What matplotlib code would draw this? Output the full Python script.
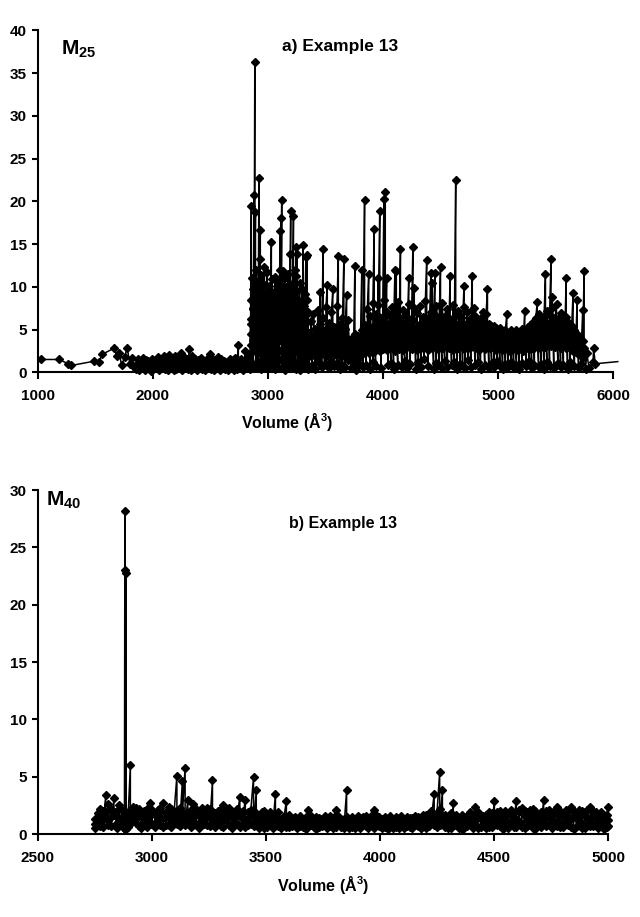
import matplotlib
matplotlib.use("Agg")
import matplotlib.pyplot as plt

plt.rcParams["font.family"] = ["Liberation Sans", "DejaVu Sans"]
plt.rcParams["font.weight"] = "bold"
plt.rcParams["mathtext.fontset"] = "custom"
plt.rcParams["mathtext.rm"] = "Liberation Sans:bold"
plt.rcParams["mathtext.it"] = "Liberation Sans:bold"
plt.rcParams["mathtext.bf"] = "Liberation Sans:bold"

# ---- panel a: M25 vs volume ----
vol_early = [1032, 1185, 1264, 1293, 1490, 1530, 1559, 1661, 1690, 1710,
             1728, 1755, 1777, 1800, 1820, 1840]
m25_early = [1.5, 1.5, 1.0, 0.8, 1.3, 1.2, 2.1, 2.8, 1.9, 2.2,
             0.8, 1.8, 2.9, 1.0, 1.7, 0.6]

# from here on every volume carries several structures (one list per structure)
vol_low = [1855, 1868, 1880, 1893, 1905, 1918, 1930, 1943, 1955, 1968,
           1980, 1993, 2005, 2018, 2030, 2043, 2055, 2068, 2080, 2093,
           2105, 2118, 2130, 2143, 2155, 2168, 2180, 2193, 2205, 2218,
           2230, 2243, 2255, 2268, 2280, 2293, 2305, 2318, 2330, 2343,
           2355, 2368, 2380, 2393, 2405, 2418, 2430, 2443, 2455, 2468,
           2480, 2493, 2505, 2518, 2530, 2543, 2555, 2568, 2580, 2593,
           2605, 2618, 2630, 2643, 2655, 2668, 2680, 2693, 2705, 2718,
           2730, 2743, 2755, 2768, 2780, 2793, 2805, 2818, 2830, 2842]
m25_low = [0.4, 1.6, 0.3, 1.2, 0.5, 1.7, 0.3, 1.4, 0.6, 1.2,
           0.2, 1.5, 0.4, 1.3, 0.5, 1.8, 0.3, 1.4, 0.6, 1.9,
           0.4, 1.5, 0.3, 2.0, 0.5, 1.6, 0.3, 1.9, 0.4, 1.7,
           0.6, 2.2, 0.3, 1.8, 0.5, 1.5, 0.4, 2.7, 0.3, 1.9,
           0.5, 1.6, 0.3, 1.4, 0.6, 1.7, 0.4, 1.3, 0.3, 1.5,
           0.5, 2.1, 0.4, 1.6, 0.3, 1.4, 0.5, 1.8, 0.3, 1.5,
           0.6, 1.3, 0.4, 1.2, 0.3, 1.6, 0.5, 1.4, 0.3, 1.7,
           0.4, 3.2, 0.5, 1.5, 0.3, 1.3, 2.5, 0.6, 1.8, 0.4]
m25_low_2 = [0.9, 1.1, 0.8, 0.7, 1.2, 1.0, 0.9, 0.8, 1.3, 0.7,
             1.0, 0.8, 1.1, 0.9, 1.2, 1.0, 0.8, 0.9, 1.3, 1.1,
             0.9, 0.8, 1.2, 1.0, 1.4, 0.9, 1.1, 0.8, 1.2, 1.0,
             1.3, 0.9, 1.1, 1.0, 1.2, 0.8, 1.0, 1.1, 1.3, 0.9,
             1.0, 1.2, 0.8, 0.9, 1.1, 1.0, 1.2, 0.8, 1.0, 0.9,
             1.1, 1.3, 0.9, 1.0, 1.2, 0.8, 1.0, 1.1, 0.9, 1.0,
             1.2, 0.8, 0.9, 1.1, 1.0, 0.8, 1.2, 0.9, 1.0, 1.1,
             0.9, 1.4, 1.0, 0.8, 1.1, 0.9, 1.2, 1.0, 1.3, 0.9]

vol_dense1 = [2850, 2856, 2862, 2868, 2874, 2880, 2886, 2892, 2898, 2904,
              2910, 2916, 2922, 2928, 2934, 2940, 2946, 2952, 2958, 2964,
              2970, 2976, 2982, 2988, 2994, 3000, 3006, 3012, 3018, 3024,
              3030, 3036, 3042, 3048, 3054, 3060, 3066, 3072, 3078, 3084,
              3090, 3096, 3102, 3108, 3114, 3120, 3126, 3132, 3138, 3144,
              3150, 3156, 3162, 3168, 3174, 3180, 3186, 3192, 3198, 3204,
              3210, 3216, 3222, 3228, 3234, 3240, 3246, 3252, 3258, 3264,
              3270, 3276, 3282, 3288, 3294, 3300, 3306, 3312, 3318, 3324,
              3330, 3336, 3342, 3348]
m25_dense1 = [5.6, 19.5, 0.5, 7.5, 1.0, 20.7, 36.3, 18.8, 0.6, 9.6,
              1.2, 7.0, 22.7, 13.3, 16.6, 0.4, 10.5, 1.5, 8.2, 0.8,
              12.3, 2.0, 6.5, 0.5, 9.0, 1.3, 7.8, 0.6, 5.4, 1.0,
              15.2, 0.7, 8.0, 1.8, 6.9, 0.4, 9.2, 1.1, 5.8, 0.5,
              7.4, 1.6, 4.8, 16.5, 18.1, 20.2, 0.6, 11.8, 1.2, 8.6,
              0.3, 10.0, 1.4, 6.2, 0.8, 9.5, 1.0, 13.8, 18.9, 0.5,
              7.1, 1.3, 18.3, 0.9, 12.0, 0.4, 14.7, 13.8, 0.6, 8.4,
              1.2, 10.5, 0.3, 4.6, 0.7, 9.8, 14.9, 0.5, 6.3, 1.1,
              13.5, 0.8, 13.7, 0.4]
m25_dense1_2 = [3.2, 4.5, 2.4, 6.1, 3.8, 5.2, 2.7, 6.8, 4.1, 3.0,
                5.5, 2.2, 4.7, 6.3, 3.5, 5.8, 2.6, 4.9, 3.3, 6.0,
                4.4, 2.9, 5.6, 3.7, 6.4, 2.5, 4.2, 5.1, 3.1, 6.6,
                4.0, 2.3, 5.3, 3.6, 4.8, 6.2, 2.8, 5.0, 3.4, 4.6,
                6.1, 2.6, 5.7, 3.9, 4.3, 6.5, 2.4, 5.2, 3.8, 4.9,
                2.7, 6.0, 4.1, 3.2, 5.4, 2.9, 4.6, 6.3, 3.5, 5.0,
                2.5, 4.4, 3.0, 5.6, 2.8, 4.0, 3.3, 5.1, 2.6, 4.7,
                2.2, 3.9, 2.8, 4.3, 2.4, 3.6, 5.0, 2.9, 4.1, 3.2,
                4.6, 2.7, 3.8, 2.5]
m25_dense1_3 = [8.5, 6.2, 11.0, 7.4, 9.8, 6.8, 10.5, 5.9, 12.0, 7.7,
                9.1, 6.4, 10.8, 8.0, 5.7, 11.4, 7.2, 9.5, 6.1, 10.2,
                7.9, 5.5, 9.3, 6.6, 11.7, 8.3, 6.0, 10.1, 7.5, 9.0,
                5.8, 10.9, 6.9, 8.7, 5.6, 11.2, 7.3, 9.6, 6.3, 10.4,
                8.1, 5.9, 12.0, 7.0, 9.4, 6.5, 10.7, 7.8, 5.7, 11.0,
                8.8, 6.2, 9.9, 7.4, 11.5, 6.0, 8.4, 10.3, 7.1, 9.2,
                6.6, 10.0, 5.8, 8.9, 7.2, 11.3, 6.4, 9.5, 5.6, 8.0,
                5.5, 7.6, 4.8, 6.9, 5.2, 8.3, 6.1, 7.7, 5.4, 9.1,
                6.7, 8.5, 5.9, 7.0]

vol_dense2 = [3360, 3372, 3384, 3396, 3408, 3420, 3432, 3444, 3456, 3468,
              3480, 3492, 3504, 3516, 3528, 3540, 3552, 3564, 3576, 3588,
              3600, 3612, 3624, 3636, 3648, 3660, 3672, 3684, 3696, 3708,
              3720, 3732, 3744, 3756, 3768, 3780, 3792, 3804, 3816, 3828,
              3840, 3852, 3864, 3876, 3888, 3900, 3912, 3924, 3936, 3948,
              3960, 3972, 3984, 3996, 4008, 4020, 4032, 4044, 4056, 4068,
              4080, 4092, 4104, 4116, 4128, 4140, 4152, 4164, 4176, 4188,
              4200, 4212, 4224, 4236, 4248, 4260, 4272, 4284, 4296, 4308,
              4320, 4332, 4344, 4356, 4368, 4380, 4392, 4404, 4416, 4428,
              4440, 4452, 4464, 4476, 4488, 4500, 4512, 4524, 4536, 4548,
              4560, 4572, 4584, 4596, 4608, 4620, 4632, 4644, 4656, 4668,
              4680, 4692, 4704, 4716, 4728, 4740, 4752, 4764, 4776, 4788,
              4800, 4812, 4824, 4836, 4848, 4860, 4872, 4884, 4896, 4908,
              4920, 4932, 4944, 4956, 4968, 4980, 4992, 5004, 5016, 5028,
              5040, 5052, 5064, 5076, 5088, 5100, 5112, 5124, 5136, 5148,
              5160, 5172, 5184, 5196, 5208, 5220, 5232, 5244, 5256, 5268,
              5280, 5292, 5304, 5316, 5328, 5340, 5352, 5364, 5376, 5388,
              5400, 5412, 5424, 5436, 5448, 5460, 5472, 5484, 5496, 5508,
              5520, 5532, 5544, 5556, 5568, 5580, 5592, 5604, 5616, 5628,
              5640, 5652, 5664, 5676, 5688, 5700, 5712, 5724, 5736, 5748]
m25_dense2 = [0.5, 4.2, 0.8, 3.6, 0.4, 5.0, 1.2, 3.8, 9.4, 0.6,
              14.4, 1.0, 4.6, 10.2, 0.5, 3.9, 1.3, 9.7, 0.7, 4.4,
              1.1, 13.6, 0.4, 3.2, 0.9, 13.2, 0.6, 9.0, 1.4, 3.5,
              0.5, 2.8, 0.8, 12.4, 0.3, 2.4, 1.0, 3.1, 12.0, 0.6,
              20.2, 0.9, 4.8, 11.5, 0.4, 5.2, 1.2, 16.8, 0.7, 5.6,
              11.0, 18.9, 0.5, 6.1, 20.3, 21.1, 11.0, 0.8, 5.3, 1.1,
              6.0, 0.4, 12.0, 11.9, 0.9, 5.4, 14.4, 0.6, 4.9, 1.3,
              5.8, 0.5, 11.0, 1.0, 6.2, 14.7, 9.9, 0.4, 5.1, 1.2,
              5.7, 0.6, 4.6, 1.5, 6.0, 13.1, 0.7, 5.5, 11.6, 10.5,
              0.4, 11.6, 1.1, 5.2, 0.8, 12.3, 0.5, 6.1, 1.3, 4.8,
              0.6, 5.9, 11.3, 0.9, 5.0, 1.2, 22.5, 0.4, 5.6, 1.0,
              6.3, 0.7, 10.1, 0.5, 5.4, 1.4, 4.9, 0.6, 11.3, 7.5,
              0.8, 5.7, 1.2, 4.6, 0.4, 6.0, 7.0, 0.9, 5.3, 9.8,
              0.5, 5.5, 1.1, 4.8, 0.6, 5.2, 1.3, 4.4, 0.7, 4.9,
              0.4, 4.3, 1.0, 6.8, 0.6, 4.7, 1.2, 4.1, 0.5, 4.6,
              0.9, 4.2, 0.4, 4.8, 1.1, 4.5, 7.2, 0.7, 4.3, 1.3,
              5.0, 0.5, 4.7, 0.8, 5.4, 8.2, 0.6, 5.2, 1.0, 5.8,
              0.4, 11.5, 1.2, 5.6, 0.7, 13.3, 8.8, 0.5, 5.9, 8.0,
              1.1, 5.3, 0.6, 6.2, 0.9, 4.8, 11.0, 0.4, 5.5, 1.2,
              4.6, 9.3, 0.7, 4.2, 8.5, 0.5, 3.9, 1.0, 7.3, 11.8]
m25_dense2_2 = [2.4, 1.9, 3.1, 2.2, 2.8, 1.8, 3.3, 2.5, 2.0, 3.0,
                2.6, 3.4, 1.9, 2.7, 3.2, 2.1, 2.9, 2.3, 3.5, 2.0,
                3.1, 2.4, 2.8, 1.8, 2.6, 2.2, 3.0, 1.9, 2.3, 1.7,
                2.1, 1.6, 2.4, 1.8, 2.0, 1.5, 2.2, 1.9, 2.5, 2.3,
                3.2, 2.6, 3.0, 2.2, 3.6, 2.8, 3.3, 2.4, 3.8, 2.9,
                3.5, 2.5, 3.9, 2.7, 3.1, 3.4, 2.6, 4.0, 2.8, 3.6,
                3.0, 3.7, 2.5, 3.3, 3.9, 2.7, 3.2, 3.8, 2.6, 3.5,
                2.9, 3.6, 3.1, 4.1, 2.7, 3.4, 3.0, 3.8, 2.6, 3.7,
                3.2, 4.0, 2.8, 3.5, 3.1, 3.9, 2.6, 3.3, 3.7, 2.9,
                3.6, 3.0, 3.8, 2.7, 3.4, 3.1, 4.0, 2.8, 3.5, 3.2,
                3.9, 2.9, 3.3, 3.7, 2.6, 3.6, 3.0, 3.9, 2.8, 3.4,
                3.1, 3.8, 2.7, 3.5, 3.0, 3.9, 2.8, 3.6, 3.2, 4.0,
                2.9, 3.4, 3.7, 2.6, 3.3, 3.1, 3.8, 2.7, 3.5, 3.0,
                3.6, 2.8, 3.3, 3.0, 3.7, 2.6, 3.2, 2.9, 3.5, 2.7,
                3.1, 2.6, 3.4, 2.9, 3.2, 2.5, 3.3, 2.8, 3.0, 2.7,
                3.2, 2.6, 3.0, 2.8, 3.3, 2.5, 3.1, 2.9, 3.4, 2.7,
                3.3, 2.9, 3.6, 2.8, 3.4, 3.1, 3.7, 2.9, 3.5, 3.2,
                3.8, 3.0, 3.6, 3.3, 3.9, 3.1, 3.5, 3.4, 3.0, 3.7,
                3.2, 3.6, 2.9, 3.4, 3.1, 3.5, 2.8, 3.3, 3.0, 3.2,
                2.6, 3.0, 2.4, 2.8, 2.2, 2.6, 2.0, 2.4, 1.8, 2.2]
m25_dense2_3 = [4.6, 6.0, 4.2, 6.8, 5.1, 4.4, 7.3, 4.8, 5.6, 4.5,
                6.4, 5.0, 7.6, 4.3, 5.8, 4.7, 7.0, 4.1, 5.3, 4.9,
                7.8, 4.4, 5.6, 5.0, 6.3, 4.2, 5.1, 3.9, 6.1, 3.6,
                3.3, 4.0, 2.9, 4.5, 3.4, 4.2, 3.1, 3.7, 5.0, 3.6,
                5.5, 4.5, 7.4, 5.0, 6.6, 4.6, 8.1, 5.3, 6.8, 4.8,
                7.9, 5.7, 6.4, 5.0, 8.4, 5.9, 7.1, 5.2, 6.7, 5.6,
                7.6, 5.1, 7.0, 5.5, 8.2, 4.9, 6.4, 5.9, 7.3, 5.3,
                6.6, 5.6, 8.0, 5.0, 6.2, 6.0, 7.5, 4.8, 6.9, 5.4,
                7.8, 5.0, 6.5, 5.7, 8.3, 5.2, 6.3, 5.8, 7.1, 5.0,
                6.8, 5.5, 7.7, 4.9, 6.4, 5.9, 8.1, 5.3, 6.6, 5.6,
                7.4, 5.1, 6.2, 5.7, 7.9, 5.0, 6.7, 5.4, 7.2, 5.2,
                6.5, 5.8, 7.6, 5.0, 7.0, 5.5, 6.2, 4.9, 7.3, 5.6,
                6.6, 5.3, 6.0, 4.8, 6.3, 5.4, 5.8, 5.0, 6.8, 5.2,
                5.6, 4.6, 5.1, 4.3, 5.4, 4.2, 4.9, 4.4, 5.2, 4.1,
                4.8, 4.3, 5.0, 4.0, 4.6, 4.4, 4.9, 3.9, 4.5, 4.2,
                4.9, 4.1, 4.7, 4.4, 5.1, 4.0, 4.8, 4.3, 5.3, 4.4,
                5.5, 4.5, 5.9, 4.9, 6.3, 5.1, 6.8, 4.7, 6.1, 5.3,
                6.5, 5.0, 7.2, 5.6, 6.7, 5.2, 7.5, 5.4, 6.4, 5.0,
                6.2, 4.8, 6.9, 5.3, 5.9, 4.6, 6.5, 5.0, 5.8, 4.5,
                5.4, 4.3, 4.9, 3.8, 4.5, 3.4, 4.0, 3.1, 3.7, 2.9]

vol_tail = [5760, 5772, 5790, 5826, 5830, 5845, 6040]
m25_tail = [0.4, 2.2, 0.5, 1.2, 2.8, 1.0, 1.25]

# ---- panel b: M40 vs volume ----
vol_b = [2750, 2762, 2774, 2786, 2798, 2810, 2822, 2834, 2846, 2858,
         2870, 2880, 2882, 2883, 2884, 2885, 2887, 2894, 2906, 2918,
         2930, 2942, 2954, 2966, 2978, 2990, 3002, 3014, 3026, 3038,
         3050, 3062, 3074, 3086, 3098, 3110, 3122, 3134, 3146, 3158,
         3170, 3182, 3194, 3206, 3218, 3230, 3242, 3254, 3266, 3278,
         3290, 3302, 3314, 3326, 3338, 3350, 3362, 3374, 3386, 3398,
         3410, 3422, 3434, 3446, 3458, 3470, 3482, 3494, 3506, 3518,
         3530, 3542, 3554, 3566, 3578, 3590, 3602, 3614, 3626, 3638,
         3650, 3662, 3674, 3686, 3698, 3710, 3722, 3734, 3746, 3758,
         3770, 3782, 3794, 3806, 3818, 3830, 3842, 3854, 3866, 3878,
         3890, 3902, 3914, 3926, 3938, 3950, 3962, 3974, 3986, 3998,
         4010, 4022, 4034, 4046, 4058, 4070, 4082, 4094, 4106, 4118,
         4130, 4142, 4154, 4166, 4178, 4190, 4202, 4214, 4226, 4238,
         4250, 4262, 4274, 4286, 4298, 4310, 4322, 4334, 4346, 4358,
         4370, 4382, 4394, 4406, 4418, 4430, 4442, 4454, 4466, 4478,
         4490, 4502, 4514, 4526, 4538, 4550, 4562, 4574, 4586, 4598,
         4610, 4622, 4634, 4646, 4658, 4670, 4682, 4694, 4706, 4718,
         4730, 4742, 4754, 4766, 4778, 4790, 4802, 4814, 4826, 4838,
         4850, 4862, 4874, 4886, 4898, 4910, 4922, 4934, 4946, 4958,
         4970, 4982, 4994, 5000]
m40_b = [0.9, 0.8, 1.6, 2.0, 3.4, 1.2, 2.2, 3.1, 1.0, 2.5,
         1.5, 0.6, 28.2, 0.5, 23.0, 0.8, 22.8, 1.9, 6.0, 1.3,
         2.3, 0.7, 1.8, 1.1, 2.2, 2.7, 0.9, 1.7, 1.2, 2.0,
         2.7, 0.8, 1.9, 1.3, 1.0, 5.1, 1.4, 4.6, 5.8, 3.0,
         1.2, 2.6, 0.9, 1.8, 1.4, 2.1, 0.8, 1.6, 4.7, 1.1,
         2.0, 0.7, 2.5, 1.3, 1.9, 0.9, 1.5, 2.2, 3.2, 1.0,
         3.0, 0.8, 1.7, 5.0, 3.8, 0.5, 1.2, 2.0, 0.6, 1.4,
         0.9, 3.5, 1.3, 0.5, 1.6, 2.9, 1.1, 0.7, 1.5, 0.9,
         1.2, 0.6, 1.0, 2.1, 0.8, 1.3, 0.4, 1.1, 0.7, 1.4,
         0.8, 1.2, 0.5, 2.1, 1.0, 0.6, 1.3, 3.8, 0.7, 1.1,
         0.5, 1.4, 0.8, 1.2, 1.6, 0.6, 1.3, 2.1, 0.9, 1.5,
         0.7, 1.2, 0.4, 1.4, 0.8, 1.1, 0.5, 1.3, 0.9, 1.2,
         0.6, 1.4, 0.8, 1.5, 0.5, 1.3, 1.7, 0.7, 2.0, 3.5,
         0.6, 5.4, 3.8, 1.2, 0.5, 1.8, 2.7, 0.8, 1.4, 0.4,
         1.5, 0.7, 1.9, 1.1, 2.4, 0.5, 1.6, 0.9, 1.7, 0.6,
         1.8, 2.9, 0.8, 1.5, 0.4, 2.0, 1.0, 1.7, 0.6, 2.9,
         1.1, 2.3, 0.5, 1.9, 0.8, 2.2, 0.4, 1.6, 1.0, 3.0,
         0.7, 2.1, 0.5, 1.8, 2.4, 0.6, 1.5, 0.9, 2.0, 2.4,
         0.4, 1.7, 0.8, 2.0, 0.5, 1.4, 2.4, 0.7, 1.9, 0.5,
         1.6, 0.4, 1.2, 2.4]
m40_b_2 = [1.3, 1.8, 0.7, 1.2, 1.9, 0.8, 1.5, 1.7, 2.0, 1.1,
           0.8, 1.4, 0.5, 0.6, 0.5, 0.7, 0.6, 1.2, 1.6, 2.0,
           1.0, 1.6, 0.8, 2.0, 1.3, 0.9, 1.8, 1.0, 2.1, 0.8,
           1.4, 1.9, 0.8, 2.2, 1.7, 0.9, 2.3, 1.2, 1.6, 1.0,
           2.1, 0.8, 1.7, 1.0, 2.3, 0.9, 1.5, 2.2, 1.0, 1.8,
           0.9, 1.6, 1.1, 2.0, 0.8, 1.7, 1.0, 0.9, 1.6, 2.0,
           1.2, 1.9, 0.9, 1.5, 1.1, 1.6, 0.8, 1.1, 1.5, 0.8,
           1.5, 0.9, 0.7, 1.3, 1.0, 1.2, 0.6, 1.4, 0.8, 1.3,
           0.7, 1.3, 1.5, 0.9, 1.2, 0.6, 1.0, 1.4, 0.9, 0.8,
           1.3, 0.7, 1.1, 0.8, 1.4, 1.2, 0.8, 1.0, 1.3, 0.6,
           1.2, 0.7, 1.4, 0.9, 0.7, 1.3, 0.8, 1.0, 1.4, 0.7,
           1.3, 0.6, 1.1, 0.7, 1.3, 0.6, 1.2, 0.8, 0.5, 0.7,
           1.2, 0.8, 1.3, 0.7, 1.2, 0.8, 0.9, 1.4, 1.1, 1.6,
           1.3, 2.2, 1.7, 0.6, 1.4, 0.9, 1.5, 1.3, 0.7, 1.2,
           0.8, 1.6, 0.9, 1.7, 0.8, 1.4, 0.7, 1.6, 1.0, 1.4,
           1.0, 1.6, 1.4, 0.7, 1.6, 0.9, 1.8, 0.8, 1.5, 1.2,
           1.9, 0.8, 1.6, 0.7, 1.5, 1.0, 1.7, 0.8, 1.9, 1.3,
           1.5, 0.9, 1.7, 0.8, 1.1, 1.6, 0.9, 1.7, 0.8, 1.3,
           1.6, 0.7, 1.5, 1.0, 1.7, 0.8, 1.2, 1.6, 0.9, 1.5,
           0.8, 1.3, 0.6, 1.2]
m40_b_3 = [0.5, 1.1, 2.2, 0.6, 1.4, 2.6, 0.7, 1.9, 0.5, 1.4,
           2.1, 1.0, 0.4, 0.4, 0.4, 0.4, 0.5, 0.6, 0.9, 2.4,
           1.5, 2.2, 0.5, 1.4, 0.6, 1.8, 2.1, 0.6, 1.6, 2.3,
           0.6, 1.5, 2.4, 0.6, 2.0, 1.6, 0.7, 1.9, 0.8, 1.8,
           0.6, 1.7, 2.2, 0.5, 1.8, 1.5, 2.3, 0.7, 1.9, 0.6,
           1.5, 2.2, 0.6, 1.7, 2.3, 0.5, 1.9, 1.6, 0.6, 1.4,
           0.6, 1.4, 2.1, 0.7, 1.8, 1.0, 1.9, 0.5, 1.2, 1.9,
           0.5, 1.7, 1.9, 0.9, 1.3, 0.6, 1.7, 0.9, 1.2, 0.5,
           1.6, 1.0, 0.4, 1.4, 1.6, 0.9, 1.5, 0.6, 1.3, 1.6,
           0.5, 1.6, 1.4, 0.6, 1.6, 1.0, 0.5, 1.5, 0.5, 1.5,
           1.0, 1.6, 0.5, 1.5, 1.3, 0.5, 1.6, 0.5, 1.6, 1.2,
           0.5, 1.5, 0.8, 1.6, 0.5, 1.5, 0.8, 1.6, 1.2, 1.5,
           1.4, 0.5, 1.6, 1.1, 0.5, 1.7, 0.5, 0.9, 1.5, 0.8,
           1.8, 0.8, 1.1, 1.7, 1.0, 0.5, 1.1, 1.7, 0.5, 1.7,
           0.5, 1.2, 1.6, 0.5, 1.4, 1.9, 0.6, 1.3, 0.5, 1.9,
           0.6, 1.2, 1.9, 2.0, 0.8, 1.6, 0.5, 2.1, 1.0, 0.6,
           2.1, 0.6, 2.0, 1.2, 2.1, 0.5, 2.0, 1.3, 0.6, 1.6,
           2.0, 1.6, 0.6, 2.1, 0.7, 2.0, 0.6, 2.1, 1.4, 0.6,
           2.0, 1.3, 2.1, 0.5, 1.9, 2.1, 0.7, 2.0, 1.4, 0.6,
           1.9, 0.8, 1.7, 0.7]


def stacks(vols, *series):
    # one point per structure, structures at the same volume drawn in a row
    xs, ys = [], []
    for i, v in enumerate(vols):
        for s in series:
            xs.append(v)
            ys.append(s[i])
    return xs, ys


xl, yl = stacks(vol_low, m25_low, m25_low_2)
xd1, yd1 = stacks(vol_dense1, m25_dense1, m25_dense1_2, m25_dense1_3)
xd2, yd2 = stacks(vol_dense2, m25_dense2, m25_dense2_2, m25_dense2_3)
vol_a = vol_early + xl + xd1 + xd2 + vol_tail
m25_a = m25_early + yl + yd1 + yd2 + m25_tail
vol_bb, m40_bb = stacks(vol_b, m40_b, m40_b_2, m40_b_3)

fig = plt.figure(figsize=(6.4, 9.17), dpi=100)
ax1 = fig.add_axes([0.059, 0.594, 0.899, 0.373])
ax2 = fig.add_axes([0.059, 0.0905, 0.891, 0.375])

style = dict(color="black", lw=1.1, marker="D", markersize=4.2,
             markerfacecolor="black", markeredgecolor="black", clip_on=False)
ax1.plot(vol_a, m25_a, markevery=slice(0, -1), **style)
ax2.plot(vol_bb, m40_bb, **style)

ax1.set_xlim(1000, 6000)
ax1.set_ylim(0, 40)
ax1.set_xticks(range(1000, 6001, 1000))
ax1.set_yticks(range(0, 41, 5))
ax2.set_xlim(2500, 5000)
ax2.set_ylim(0, 30)
ax2.set_xticks(range(2500, 5001, 500))
ax2.set_yticks(range(0, 31, 5))

for ax in (ax1, ax2):
    ax.spines["top"].set_visible(False)
    ax.spines["right"].set_visible(False)
    ax.spines["left"].set_linewidth(1.5)
    ax.spines["bottom"].set_linewidth(1.5)
    ax.tick_params(axis="x", direction="out", length=5, width=1.5,
                   labelsize=11, pad=7)
    ax.tick_params(axis="y", direction="out", length=4, width=1.5,
                   labelsize=11, pad=4)
    for lab in ax.get_xticklabels() + ax.get_yticklabels():
        lab.set_fontweight("bold")
    ax.set_xlabel("Volume (Å$^3$)", fontsize=11.5, fontweight="bold")

ax1.xaxis.set_label_coords(0.433, -0.113)
ax2.xaxis.set_label_coords(0.5, -0.117)

ax1.text(0.04, 0.975, "M$_{25}$", transform=ax1.transAxes, fontsize=15,
         fontweight="bold", va="top", ha="left")
ax1.text(0.525, 0.975, "a) Example 13", transform=ax1.transAxes, fontsize=12.5,
         fontweight="bold", va="top", ha="center")
ax2.text(0.015, 1.0, "M$_{40}$", transform=ax2.transAxes, fontsize=15,
         fontweight="bold", va="top", ha="left")
ax2.text(0.535, 0.925, "b) Example 13", transform=ax2.transAxes, fontsize=11.5,
         fontweight="bold", va="top", ha="center")

fig.savefig("out.png", dpi=100)
